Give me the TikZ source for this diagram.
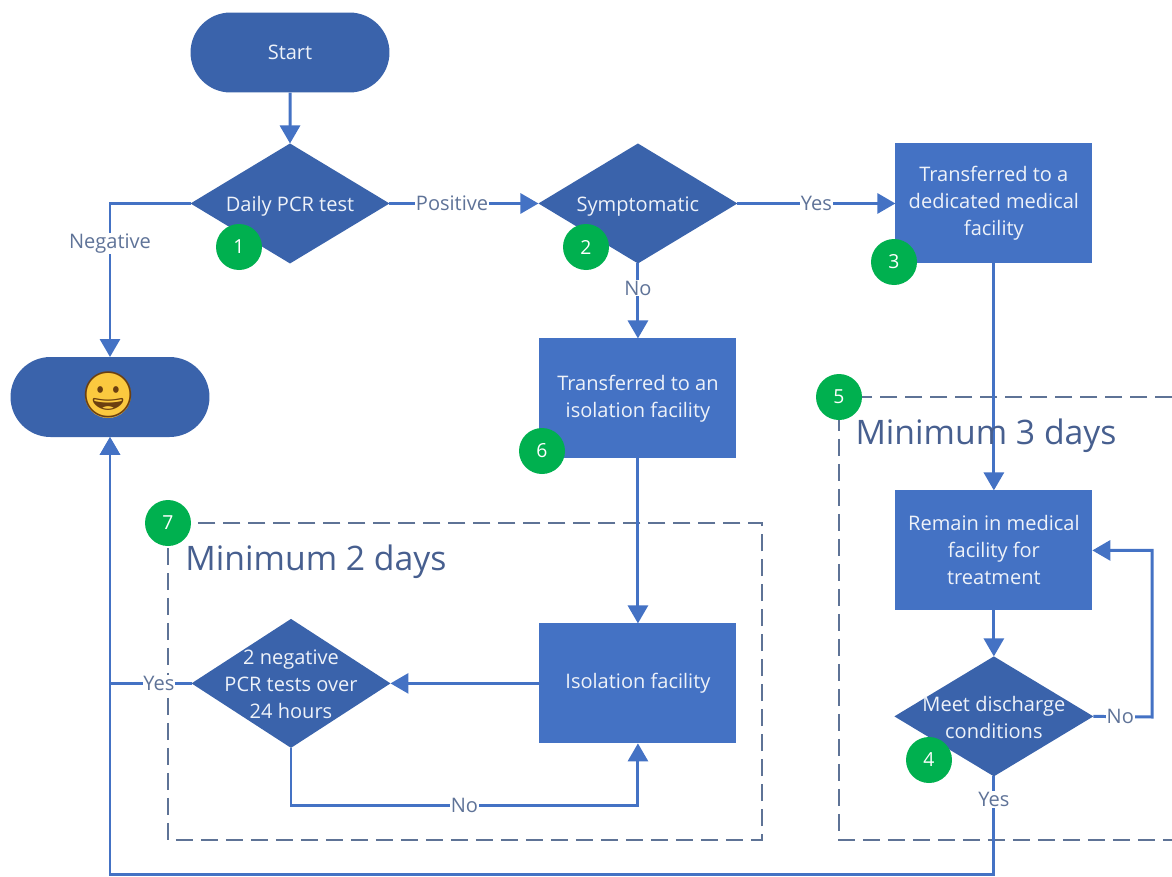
\documentclass[tikz,border=0pt]{standalone}
\usepackage{fontspec}
\setmainfont{Open Sans}
\newfontfamily\emojifont{Noto Emoji}
\usepackage{xcolor}
\usetikzlibrary{%
  shapes.geometric, shapes.misc, arrows.meta, positioning
}
\definecolor{boxblue}{HTML}{4472C4}
\definecolor{darkblue}{HTML}{3A63AB}
\definecolor{labelblue}{HTML}{5F7398}
\definecolor{dashblue}{HTML}{5E7396}
\definecolor{titleblue}{HTML}{475F8F}
\definecolor{badgegreen}{HTML}{00B04F}
\definecolor{faceyellow}{HTML}{FBC93F}
\definecolor{facebrown}{HTML}{6B3F10}
\definecolor{softwhite}{HTML}{EEF2F9}
\newcommand{\diamondtext}[1]{\smash{\makebox[0pt]{\raisebox{-0.38em}{\begin{tabular}{@{}c@{}}#1\end{tabular}}}}}

\begin{document}
\begin{tikzpicture}[%
    x=0.02cm,
    y=-0.02cm,
    >={Triangle[length=0.36cm,width=0.4cm]},
    every node/.style={%
      text centered,
      align=center,
      outer sep=0pt
    },
    terminal/.style={%
      rounded rectangle, fill=darkblue, text=softwhite, inner sep=0pt,
      minimum width=3.98cm, minimum height=1.6cm,
      font=\fontsize{11.4}{15.4}\selectfont
    },
    process/.style={%
      rectangle, fill=boxblue, text=softwhite, inner sep=0pt,
      minimum width=3.94cm, minimum height=2.4cm,
      font=\fontsize{11.4}{15.4}\selectfont
    },
    decision/.style={%
      diamond, fill=darkblue, text=softwhite, inner sep=0pt,
      minimum width=3.98cm, minimum height=2.4cm,
      font=\fontsize{11.4}{15.4}\selectfont
    },
    badge/.style={%
      circle, fill=badgegreen, text=white, inner sep=0pt,
      minimum size=0.92cm, font=\fontsize{11}{12}\selectfont
    },
    flow/.style={->, draw=boxblue, line width=1.7pt},
    flowlabel/.style={%
      fill=white, text=labelblue, inner sep=0.5pt,
      font=\fontsize{11.4}{12}\selectfont
    },
    dashbox/.style={%
      draw=dashblue, line width=1.6pt, dash pattern=on 0.34cm off 0.16cm
    },
    boxtitle/.style={%
      text=titleblue, inner sep=0pt, font=\fontsize{19.2}{22}\selectfont
    }
  ]

  \useasboundingbox (0,0) rectangle (1172,876);

  % Dashed frames
  \draw[dashbox] (168,523) rectangle (762,840);
  \draw[dashbox] (1172,397) -| (839,840) -- (1172,840);

  % Top row
  \node[terminal] (start) at (290,52.5) {Start};
  \node[decision, below=1.02cm of start] (pcr) {\diamondtext{Daily PCR test}};
  \node[decision, right=2.98cm of pcr] (symptom) {\diamondtext{Symptomatic}};
  \node[process, right=3.16cm of symptom] (medical) {Transferred to a\\dedicated medical\\facility};

  % Isolation branch
  \node[process, below=1.5cm of symptom] (transfer) {Transferred to an\\isolation facility};
  \node[process, below=3.3cm of transfer] (isolation) {Isolation facility};
  \node[decision, minimum height=2.58cm, left=2.98cm of isolation] (negative)
    {\diamondtext{2 negative\\PCR tests over\\24 hours}};

  % Medical branch
  \node[process, below=4.54cm of medical] (remain) {Remain in medical\\facility for\\treatment};
  \node[decision, below=0.92cm of remain] (discharge) {\diamondtext{Meet discharge\\conditions}};
  \coordinate (noturn) at (1152,717);

  % Exit
  \node[terminal] (exit) at (110,397) {};
  \node[circle, fill=faceyellow, minimum size=0.92cm, inner sep=0pt] (disc) at (108,395) {};
  \node[text=facebrown, inner sep=0pt, font=\emojifont\fontsize{26}{26}\selectfont] (face) at (disc) {😀};

  % Connectors
  \draw[flow] (start) -- (pcr);
  \draw[flow] (pcr.west) -| node[flowlabel, pos=0.63] (lnegative) {Negative} (exit.north);
  \draw[flow] (pcr) -- node[flowlabel, pos=0.42] (lpositive) {Positive} (symptom);
  \draw[flow] (symptom) -- node[flowlabel] (lyes) {Yes} (medical);
  \draw[flow] (symptom) -- node[flowlabel, pos=0.33] (lno) {No} (transfer);
  \draw[flow] (medical) -- (remain);
  \draw[flow] (transfer) -- (isolation);
  \draw[flow] (isolation) -- (negative);
  \draw[flow] (remain) -- (discharge);
  \draw[flow] (negative.south) -- ++(0,58) -| node[flowlabel, pos=0.25] (lnoagain) {No} (isolation.south);
  \draw[flow] (negative.west) -| node[flowlabel, pos=0.2] (lout) {Yes} (exit.south);
  \draw[flow] (discharge.east) -- node[flowlabel, pos=0.46] (lstay) {No} (noturn) |- (remain.east);
  \draw[flow] (discharge.south) -- node[flowlabel, pos=0.235] (lleave) {Yes} ++(0,98) -| (exit.south);

  % Frame titles
  \node[boxtitle] (title3) at (986,436) {Minimum 3 days};
  \node[boxtitle] (title2) at (316,562) {Minimum 2 days};

  % Numbered badges
  \node[badge] (b1) at (239,247) {1};
  \node[badge] (b2) at (586,247) {2};
  \node[badge] (b3) at (894,262) {3};
  \node[badge] (b4) at (929,760) {4};
  \node[badge] (b5) at (839,397) {5};
  \node[badge] (b6) at (542,451) {6};
  \node[badge] (b7) at (168,523) {7};

\end{tikzpicture}
\end{document}
